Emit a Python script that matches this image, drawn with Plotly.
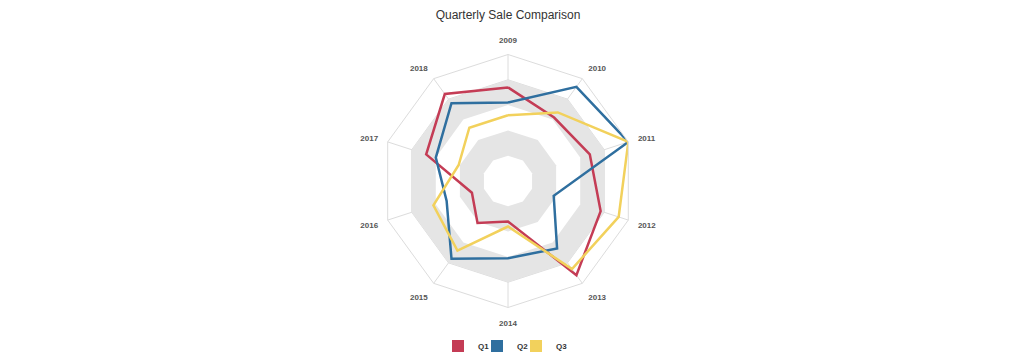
import plotly.graph_objects as go

categories = ["2009", "2010", "2011", "2012", "2013", "2014", "2015", "2016", "2017", "2018"]
q1 = [74, 62, 68, 77, 92, 32, 41, 30, 68, 85]
q2 = [62, 92, 100, 38, 66, 61, 76, 51, 60, 76]
q3 = [52, 67, 100, 92, 86, 36, 68, 62, 41, 52]
series_names = ["Q1", "Q2", "Q3"]
series_values = [q1, q2, q3]
series_colors = ["#c43c55", "#2f6f9f", "#f2d15c"]
band_levels = [80, 60, 40, 20]
band_colors = ["#e5e5e5", "#ffffff", "#e5e5e5", "#ffffff"]

W, H = 1024, 364
OFF = 8  # page body margin
cx, cy, R = 508 - OFF, 181 - OFF, 126.5

fig = go.Figure()
closed_theta = categories + [categories[0]]

for lvl, col in zip(band_levels, band_colors):
    fig.add_trace(go.Scatterpolar(
        r=[lvl] * len(closed_theta), theta=closed_theta, mode="lines",
        fill="toself", fillcolor=col, line=dict(width=0, color=col),
        showlegend=False, hoverinfo="skip"))

legend_keys = ["legend", "legend2", "legend3"]
swatch_centers = [458, 497, 536]
for name, vals, col, lk in zip(series_names, series_values, series_colors, legend_keys):
    fig.add_trace(go.Scatterpolar(
        r=vals + [vals[0]], theta=closed_theta, mode="lines", name=name,
        line=dict(color=col, width=2.5), showlegend=False, legendgroup=name))
    fig.add_trace(go.Scatterpolar(
        r=[None], theta=[categories[0]], mode="markers", name=name,
        marker=dict(color=col, symbol="square", size=12),
        showlegend=True, legendgroup=name, legend=lk))

legend_font = dict(family="Liberation Sans, Arial", size=8, color="#333", weight="bold")
legends = {}
for lk, sc in zip(legend_keys, swatch_centers):
    legends[lk] = dict(x=(sc - OFF - 20) / W, xanchor="left",
                       y=(H - (346 - OFF)) / H, yanchor="middle",
                       bgcolor="rgba(0,0,0,0)", font=legend_font,
                       itemwidth=30)

fig.update_layout(
    width=W, height=H,
    margin=dict(l=0, r=0, t=0, b=0),
    paper_bgcolor="white",
    title=dict(text="Quarterly Sale Comparison", x=cx / W, xanchor="center",
               y=1 - 3 / H, yanchor="top", pad=dict(t=0, b=0, l=0, r=0),
               font=dict(family="Liberation Sans, Arial", size=12, color="#333")),
    polar=dict(
        domain=dict(x=[(cx - R) / W, (cx + R) / W],
                    y=[(H - cy - R) / H, (H - cy + R) / H]),
        gridshape="linear",
        bgcolor="white",
        radialaxis=dict(range=[0, 100], dtick=20, showticklabels=False, ticks="",
                        showline=False, gridcolor="#dcdcdc", gridwidth=1),
        angularaxis=dict(rotation=90, direction="clockwise", categoryorder="array",
                         categoryarray=categories, showline=True, linecolor="#dcdcdc",
                         gridcolor="#dcdcdc", ticks="outside", ticklen=8,
                         tickcolor="rgba(0,0,0,0)",
                         tickfont=dict(family="Liberation Sans, Arial", size=8,
                                       color="#555", weight="bold")),
    ),
    **legends,
)

fig.write_html("out.html")
